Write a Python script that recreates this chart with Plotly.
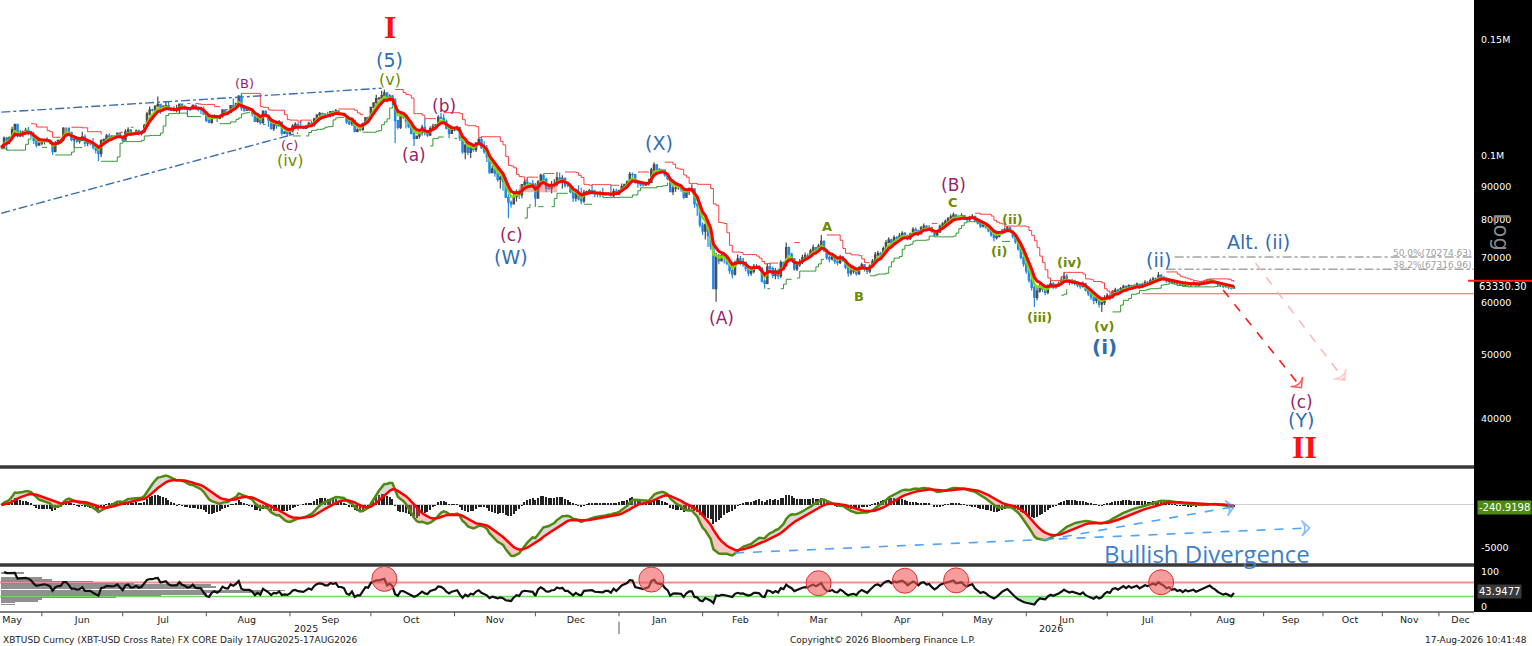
###########
# IMPORTS #
###########
import numpy as np
import pandas as pd
import plotly.graph_objects as go
from plotly.subplots import make_subplots

########
# DATA #
########
# XBT-USD daily bars (thousands of USD), 17 May 2025 -> 17 Aug 2026
first_day = '2025-05-17'

closes = [
    # May 2025 (from 17th)
    103.1, 106.5, 105.6, 106.8, 109.7, 111.7, 107.3, 107.8, 109.0, 109.4,
    108.9, 107.8, 105.6, 103.9, 104.6,
    # Jun 2025
    105.6, 105.8, 105.4, 104.7, 101.6, 104.4, 105.6, 105.8, 110.3, 110.3,
    108.7, 105.9, 106.1, 105.4, 105.6, 107.0, 104.6, 104.8, 104.6, 103.3,
    102.1, 100.9, 105.6, 106.0, 107.3, 107.0, 107.1, 107.3, 108.4, 107.1,
    # Jul 2025
    105.7, 108.8, 109.6, 108.0, 108.2, 109.2, 108.3, 108.9, 111.3, 115.9,
    117.5, 117.4, 119.1, 119.8, 117.7, 118.8, 119.3, 117.9, 117.3, 117.4,
    117.4, 119.9, 118.8, 118.4, 117.6, 117.9, 119.4, 118.0, 117.9, 117.8,
    115.8,
    # Aug 2025
    113.3, 112.5, 114.2, 115.0, 114.1, 115.0, 117.5, 116.7, 116.5, 119.3,
    118.7, 120.2, 123.3, 118.4, 117.4, 117.5, 117.4, 116.2, 112.9, 114.3,
    112.4, 116.9, 115.4, 113.5, 110.1, 111.8, 111.2, 112.6, 108.4, 108.8,
    108.2,
    # Sep 2025
    109.2, 111.2, 111.7, 110.7, 110.7, 110.2, 111.2, 112.1, 111.5, 113.9,
    115.5, 116.1, 115.9, 115.3, 115.3, 116.8, 116.5, 117.1, 115.7, 115.7,
    115.3, 112.7, 112.0, 113.3, 109.0, 109.7, 109.7, 112.1, 114.4, 114.1,
    # Oct 2025
    118.6, 120.5, 122.3, 122.4, 123.5, 124.8, 121.4, 123.3, 121.7, 113.2,
    110.6, 115.2, 115.3, 113.1, 110.8, 108.2, 106.4, 107.2, 108.7, 110.6,
    108.5, 107.6, 110.1, 111.0, 111.6, 114.5, 114.1, 112.9, 110.1, 108.3,
    109.6,
    # Nov 2025
    110.1, 110.6, 106.5, 101.5, 103.9, 101.3, 103.4, 102.3, 104.7, 105.9,
    103.0, 101.6, 99.7, 94.4, 95.6, 94.2, 92.2, 92.9, 91.5, 86.6,
    85.1, 84.6, 86.8, 88.3, 87.3, 90.5, 91.3, 90.9, 90.8, 90.4,
    # Dec 2025
    86.3, 91.3, 93.5, 92.1, 89.4, 89.3, 90.4, 90.6, 92.7, 92.0,
    92.5, 90.3, 90.3, 88.2, 86.4, 87.8, 86.1, 85.5, 88.1, 88.3,
    88.6, 88.5, 87.6, 87.6, 87.3, 87.3, 87.8, 87.8, 87.1, 88.4,
    87.5,
    # Jan 2026
    88.7, 89.9, 90.6, 91.4, 93.8, 93.7, 91.3, 90.9, 90.5, 90.4,
    90.8, 91.2, 95.3, 97.0, 95.5, 95.4, 95.1, 93.6, 92.5, 88.3,
    89.4, 89.5, 89.5, 89.2, 86.6, 88.3, 89.2, 89.2, 84.6, 84.1,
    78.6,
    # Feb 2026
    76.9, 78.7, 75.7, 73.0, 62.9, 70.5, 69.3, 70.6, 70.2, 68.8,
    67.0, 66.2, 68.9, 69.8, 68.8, 68.9, 67.5, 66.4, 66.9, 68.0,
    68.0, 67.6, 64.6, 64.1, 67.9, 67.5, 65.9, 67.0,
    # Mar 2026
    65.8, 68.9, 68.2, 72.6, 71.0, 69.9, 67.4, 68.4, 69.0, 70.1,
    70.6, 70.4, 71.8, 72.6, 71.9, 73.1, 74.2, 72.0, 70.1, 69.8,
    70.5, 69.2, 68.9, 70.3, 69.5, 67.8, 66.5, 66.9, 67.1, 66.3,
    67.6,
    # Apr 2026
    68.4, 67.5, 66.9, 68.1, 69.3, 70.8, 71.2, 70.6, 72.4, 73.9,
    74.6, 73.8, 75.2, 74.9, 75.7, 76.3, 75.8, 74.9, 76.1, 77.4,
    77.0, 76.2, 77.8, 78.3, 77.5, 77.9, 76.8, 75.9, 76.7, 78.2,
    # May 2026
    78.9, 79.6, 80.3, 80.9, 81.4, 80.6, 80.8, 81.2, 80.5, 80.1,
    80.7, 81.0, 79.9, 79.2, 78.3, 78.6, 78.1, 77.0, 75.9, 75.2,
    75.6, 76.3, 76.9, 77.4, 77.8, 76.9, 75.6, 74.1, 72.3, 70.2,
    68.6,
    # Jun 2026
    66.9, 64.8, 63.2, 61.0, 62.4, 63.5, 62.8, 62.1, 63.3, 64.0,
    63.2, 63.6, 64.1, 64.8, 65.7, 64.9, 64.3, 64.6, 64.1, 63.7,
    63.4, 63.9, 62.6, 61.8, 61.1, 60.4, 60.9, 59.6, 59.9, 60.8,
    # Jul 2026
    61.4, 61.0, 62.3, 62.6, 62.1, 62.9, 63.4, 62.8, 63.6, 63.1,
    63.5, 63.9, 63.2, 63.8, 64.3, 64.1, 64.7, 65.1, 64.8, 65.9,
    65.5, 65.2, 64.6, 64.9, 64.3, 64.5, 64.0, 64.2, 63.7, 64.1,
    63.8,
    # Aug 2026 (to 17th)
    63.9, 64.1, 63.7, 63.9, 64.2, 64.4, 64.6, 64.8, 64.5, 64.3,
    63.9, 63.7, 63.4, 63.5, 63.2, 63.0, 63.33,
]

highs = [
    103.7, 107.1, 107.0, 107.1, 110.8, 112.0, 111.9, 109.5, 109.3, 110.4,
    110.7, 109.3, 108.9, 106.3, 105.0,
    105.9, 105.9, 106.8, 105.9, 105.0, 105.4, 106.0, 106.0, 110.6, 110.4,
    110.4, 108.5, 106.2, 106.2, 106.1, 108.9, 107.8, 105.6, 105.1, 106.5,
    103.9, 103.0, 106.1, 106.3, 108.0, 108.3, 107.7, 107.6, 108.5, 108.7,
    107.5, 109.8, 110.6, 109.8, 108.6, 109.7, 109.7, 109.3, 111.9, 116.8,
    118.9, 118.0, 119.5, 123.2, 120.0, 119.6, 120.9, 120.8, 118.5, 118.9,
    119.7, 120.2, 120.0, 119.5, 118.4, 118.4, 119.8, 119.8, 118.8, 118.8,
    118.9,
    116.1, 114.0, 114.8, 115.7, 115.1, 115.6, 117.7, 117.7, 117.2, 119.3,
    122.3, 120.3, 123.7, 124.5, 118.9, 117.7, 118.6, 117.5, 116.8, 114.5,
    114.8, 117.4, 117.4, 115.6, 113.6, 112.4, 112.6, 113.4, 112.6, 109.0,
    109.4,
    109.9, 111.8, 112.6, 112.2, 113.4, 110.9, 111.4, 112.8, 113.2, 114.3,
    115.6, 116.7, 116.3, 116.1, 116.8, 117.0, 117.3, 117.9, 117.4, 116.3,
    115.6, 115.3, 113.3, 113.9, 113.4, 110.2, 110.0, 112.3, 114.5, 114.8,
    118.7, 120.7, 123.9, 122.9, 125.7, 126.2, 124.9, 124.1, 123.8, 122.5,
    113.5, 115.9, 116.0, 115.4, 113.6, 111.0, 109.1, 107.5, 109.4, 111.6,
    114.0, 109.3, 111.0, 112.0, 111.9, 115.4, 116.4, 116.0, 113.6, 111.5,
    111.2,
    110.7, 111.2, 110.8, 106.6, 104.5, 104.0, 104.1, 103.8, 105.0, 106.7,
    107.0, 105.3, 104.0, 99.9, 96.8, 96.6, 96.0, 93.8, 93.1, 93.0,
    87.4, 85.6, 88.1, 89.0, 89.0, 90.6, 91.9, 92.9, 91.2, 92.0,
    91.0, 92.0, 94.1, 94.0, 92.7, 90.0, 91.7, 92.2, 94.6, 94.4,
    93.5, 92.8, 90.6, 90.5, 90.0, 88.2, 90.3, 89.5, 88.9, 88.6,
    89.1, 90.5, 88.9, 87.9, 88.6, 89.5, 88.0, 88.1, 90.3, 89.3,
    89.2,
    88.8, 90.9, 90.8, 91.8, 94.6, 94.4, 93.6, 91.4, 91.5, 90.7,
    91.2, 92.4, 96.0, 97.9, 97.2, 95.9, 95.6, 95.5, 93.6, 92.9,
    90.3, 90.5, 90.9, 89.8, 89.4, 88.6, 89.6, 90.6, 89.3, 84.6,
    84.2,
    79.3, 79.2, 79.0, 76.5, 73.2, 71.3, 71.0, 71.5, 71.4, 70.5,
    69.3, 68.3, 69.4, 70.9, 70.5, 70.0, 69.2, 68.3, 67.9, 68.6,
    68.5, 68.3, 67.8, 65.0, 68.7, 68.8, 67.9, 67.6,
    67.5, 69.5, 69.2, 73.9, 72.9, 71.3, 69.9, 68.9, 69.8, 70.8,
    71.4, 71.2, 72.3, 73.4, 72.8, 73.6, 75.9, 74.5, 72.4, 70.6,
    71.2, 70.8, 69.6, 70.8, 70.6, 69.8, 67.9, 67.5, 67.7, 67.4,
    68.1,
    68.9, 68.6, 67.9, 68.5, 69.8, 71.5, 71.8, 71.5, 72.9, 74.6,
    75.3, 74.9, 75.8, 75.6, 76.4, 76.9, 76.7, 75.8, 76.5, 78.0,
    77.9, 77.3, 78.3, 79.0, 78.5, 78.5, 78.1, 77.0, 77.3, 78.7,
    79.4, 80.1, 80.8, 81.6, 82.1, 81.5, 81.3, 81.9, 81.3, 80.9,
    81.2, 81.6, 81.1, 79.8, 79.4, 79.1, 78.9, 78.2, 77.3, 76.0,
    76.2, 76.8, 77.5, 77.9, 78.3, 78.1, 77.1, 75.8, 74.4, 72.6,
    70.5,
    68.9, 67.2, 65.3, 63.9, 63.1, 64.0, 64.0, 63.4, 63.9, 64.7,
    64.4, 64.0, 64.5, 65.6, 66.6, 66.2, 65.1, 65.1, 64.9, 64.3,
    64.0, 64.5, 64.2, 62.9, 62.4, 61.6, 61.6, 61.2, 60.6, 61.5,
    61.9, 61.8, 62.6, 63.1, 62.9, 63.3, 63.8, 63.6, 63.9, 63.8,
    63.9, 64.3, 63.9, 64.2, 64.8, 64.6, 65.2, 65.6, 65.4, 66.7,
    66.2, 65.7, 65.5, 65.3, 65.1, 64.9, 64.7, 64.6, 64.4, 64.5,
    64.4,
    64.3, 64.5, 64.3, 64.3, 64.6, 64.8, 65.0, 65.1, 65.0, 64.7,
    64.4, 64.1, 63.9, 63.8, 63.7, 63.6, 63.6,
]

lows = [
    102.6, 102.9, 102.1, 104.2, 106.1, 108.7, 106.7, 106.9, 106.8, 108.6,
    107.6, 106.7, 104.3, 103.1, 103.7,
    103.9, 104.1, 104.9, 104.3, 100.4, 101.4, 104.3, 105.0, 105.3, 108.4,
    108.4, 105.3, 103.0, 104.8, 104.5, 105.4, 103.4, 103.5, 103.9, 102.3,
    100.9, 98.2, 99.7, 104.6, 105.9, 106.5, 106.4, 106.8, 107.3, 106.8,
    105.2, 105.8, 108.5, 107.3, 107.8, 107.8, 107.5, 107.5, 108.4, 111.1,
    115.2, 116.9, 117.3, 118.9, 116.0, 117.0, 117.8, 117.3, 117.3, 116.9,
    116.5, 116.2, 117.4, 117.5, 114.8, 117.2, 117.8, 117.6, 117.0, 115.9,
    115.5,
    112.7, 112.2, 112.0, 114.2, 112.7, 113.7, 114.3, 115.9, 116.2, 116.4,
    118.1, 118.2, 118.5, 117.2, 116.8, 117.1, 117.2, 114.8, 112.7, 112.4,
    111.7, 112.0, 114.5, 110.8, 109.7, 109.2, 110.0, 110.9, 107.5, 107.9,
    107.4,
    107.3, 108.6, 110.8, 109.4, 110.1, 109.8, 110.0, 110.6, 110.8, 110.9,
    113.5, 114.3, 115.3, 114.8, 114.5, 114.5, 114.7, 116.1, 115.4, 115.4,
    114.8, 111.9, 111.5, 111.1, 108.7, 108.7, 109.1, 109.3, 111.6, 112.7,
    113.9, 118.3, 119.3, 121.6, 122.1, 123.0, 120.7, 121.1, 119.5, 104.6,
    109.7, 109.9, 113.9, 110.1, 110.2, 107.9, 103.6, 106.4, 106.3, 107.5,
    107.5, 106.9, 107.5, 109.7, 110.7, 111.3, 113.6, 112.3, 109.8, 106.4,
    108.0,
    109.1, 109.2, 105.4, 100.8, 98.9, 100.4, 99.3, 101.5, 101.4, 104.3,
    102.5, 100.8, 98.0, 94.0, 94.5, 93.0, 91.4, 89.3, 88.6, 86.3,
    80.5, 83.5, 84.7, 85.3, 86.1, 86.3, 90.1, 90.2, 90.3, 90.2,
    83.8, 86.2, 91.0, 91.7, 88.1, 88.9, 87.8, 89.6, 89.9, 91.1,
    89.3, 89.6, 89.7, 87.8, 85.2, 85.3, 85.6, 84.5, 84.9, 87.7,
    87.6, 87.4, 86.7, 86.6, 86.5, 86.6, 87.3, 87.2, 86.8, 86.6,
    87.3,
    87.3, 88.6, 89.7, 90.2, 91.3, 92.6, 90.8, 89.5, 89.9, 89.9,
    90.1, 90.2, 91.1, 94.6, 94.9, 94.5, 94.7, 93.0, 91.9, 88.1,
    87.3, 88.3, 88.9, 88.3, 86.1, 86.4, 87.3, 88.1, 83.5, 81.2,
    77.9,
    75.9, 74.7, 72.8, 72.1, 62.8, 60.1, 68.5, 69.2, 68.7, 68.3,
    66.3, 65.2, 65.9, 68.7, 68.3, 68.0, 66.8, 65.7, 65.8, 66.4,
    67.5, 67.0, 64.3, 62.9, 63.9, 66.8, 65.3, 65.0,
    65.0, 65.3, 67.3, 67.9, 70.4, 69.3, 67.0, 66.9, 67.9, 68.6,
    69.9, 69.7, 70.2, 71.6, 71.4, 71.5, 72.8, 71.5, 69.6, 69.0,
    69.4, 68.6, 68.2, 68.6, 69.1, 67.3, 65.6, 65.9, 66.3, 65.8,
    66.0,
    67.2, 66.8, 66.2, 66.4, 67.9, 69.1, 70.4, 70.0, 70.4, 72.2,
    73.8, 73.2, 73.5, 74.3, 74.7, 75.5, 75.3, 74.5, 74.6, 75.9,
    76.6, 75.6, 76.0, 77.6, 77.1, 77.2, 76.5, 75.4, 75.6, 76.4,
    77.6, 78.4, 79.2, 79.7, 80.3, 80.0, 80.1, 80.4, 79.9, 79.5,
    79.6, 80.3, 79.5, 78.8, 77.8, 77.9, 77.6, 76.6, 75.4, 74.2,
    74.7, 75.2, 76.0, 76.5, 77.0, 76.5, 75.0, 73.6, 71.8, 69.7,
    67.9,
    66.3, 64.2, 62.5, 59.0, 60.4, 62.0, 62.2, 61.5, 61.7, 63.0,
    62.8, 62.9, 63.4, 63.8, 64.5, 64.5, 63.7, 63.9, 63.6, 63.2,
    62.9, 63.1, 62.3, 61.3, 60.5, 59.6, 59.8, 58.9, 58.0, 59.4,
    60.5, 60.4, 60.8, 62.0, 61.7, 61.9, 62.8, 62.5, 62.6, 62.8,
    63.0, 63.1, 62.9, 63.0, 63.7, 63.8, 63.9, 64.6, 64.5, 64.7,
    65.1, 64.7, 64.2, 64.2, 64.0, 63.9, 63.6, 63.7, 63.4, 63.5,
    63.3,
    63.3, 63.6, 63.3, 63.4, 63.8, 64.0, 64.2, 64.4, 64.1, 63.9,
    63.5, 63.3, 63.0, 63.1, 62.8, 62.7, 62.9,
]

# last values shown in the right-hand tags
last_price = 63330.30
macd_last = -240.9198
rsi_last = 43.9477

# price axis
price_ticks = [40000, 50000, 60000, 70000, 80000, 90000, 100000, 150000]
price_tick_text = ['40000', '50000', '60000', '70000', '80000', '90000', '0.1M', '0.15M']

# month axis
month_names = ['May', 'Jun', 'Jul', 'Aug', 'Sep', 'Oct', 'Nov', 'Dec', 'Jan', 'Feb',
               'Mar', 'Apr', 'May', 'Jun', 'Jul', 'Aug', 'Sep', 'Oct', 'Nov', 'Dec']
month_label_dates = ['2025-05-21', '2025-06-16', '2025-07-16', '2025-08-16', '2025-09-16',
                     '2025-10-16', '2025-11-16', '2025-12-16', '2026-01-16', '2026-02-15',
                     '2026-03-16', '2026-04-16', '2026-05-16', '2026-06-16', '2026-07-16',
                     '2026-08-14', '2026-09-15', '2026-10-15', '2026-11-16', '2026-12-11']
year_names = ['2025', '2026']
year_label_dates = ['2025-09-07', '2026-06-10']

# fibonacci retracement of wave (i)
fib_names = ['50.0%', '38.2%']
fib_levels = [70274.63, 67316.96]
fib_starts = ['2026-07-26', '2026-07-23']
support_level = 61800
support_start = '2026-07-14'

# Elliott wave count
wave_text = ['I', '(5)', '(v)', '(B)', '(c)', '(iv)', '(a)', '(b)', '(c)', '(W)',
             '(X)', '(A)', 'A', 'B', '(B)', 'C', '(ii)', '(i)', '(iv)', '(iii)',
             '(v)', '(i)', '(ii)', 'Alt. (ii)', '(c)', '(Y)', 'II']
wave_dates = ['2025-10-08', '2025-10-08', '2025-10-08', '2025-08-15', '2025-09-01',
              '2025-09-01', '2025-10-17', '2025-10-28', '2025-11-22', '2025-11-22',
              '2026-01-16', '2026-02-08', '2026-03-19', '2026-03-31', '2026-05-05',
              '2026-05-05', '2026-05-27', '2026-05-22', '2026-06-17', '2026-06-06',
              '2026-06-30', '2026-06-30', '2026-07-20', '2026-08-28', '2026-09-21',
              '2026-09-21', '2026-09-22']
wave_prices = [157000, 139800, 130900, 129100, 103600, 98600, 100300, 119100, 75800, 70300,
               104600, 56800, 78300, 61300, 90300, 85000, 80200, 71700, 69000, 56800,
               55100, 51300, 69500, 74100, 42400, 39800, 36200]
wave_degree = ['cycle', 'primary', 'minor', 'inter_s', 'inter_s', 'minor', 'inter', 'inter',
               'inter', 'primary', 'primary', 'inter', 'minute', 'minute', 'inter', 'minute',
               'minute', 'minute', 'minute', 'minute', 'minute', 'primary_b', 'primary',
               'primary', 'inter', 'primary', 'cycle']

# hand-drawn lines
wedge_upper_dates = ['2025-05-17', '2025-10-05']
wedge_upper_prices = [116600, 126800]
wedge_lower_dates = ['2025-05-17', '2025-09-04']
wedge_lower_prices = [81900, 108400]
path_main_dates = ['2026-08-13', '2026-09-21']
path_main_prices = [62600, 44500]
path_alt_dates = ['2026-08-27', '2026-10-13']
path_alt_prices = [68800, 45700]
box_dates = ['2025-11-25', '2025-12-09']
box_prices = [88100, 90300]
div_long_dates = ['2026-02-13', '2026-09-24']
div_long_values = [-5580, -2670]
div_short_dates = ['2026-06-08', '2026-08-17']
div_short_values = [-4070, -200]
ob_dates = ['2025-10-06', '2026-01-13', '2026-03-16', '2026-04-17', '2026-05-06', '2026-07-21']

#############
# FUNCTIONS #
#############
def paper_y(value, domain, yrange, log=False):
    v = np.log10(value) if log else value
    return domain[0] + (v - yrange[0]) / (yrange[1] - yrange[0]) * (domain[1] - domain[0])


def dashed_arrow(fig, xs, ys, color, row):
    fig.add_trace(go.Scatter(
        x=xs, y=ys, mode='lines+markers', hoverinfo='skip',
        line=dict(color=color, width=1.6, dash='dash'),
        marker=dict(symbol='arrow-wide-open', size=[0, 11], angleref='previous',
                    color=color, line=dict(color=color, width=1.6))
    ), row=row, col=1)


############
# BUILDING #
############
assert len(closes) == len(highs) == len(lows)
dates = pd.date_range(first_day, periods=len(closes), freq='D')
close = pd.Series(closes, index=dates) * 1000
high = pd.Series(highs, index=dates) * 1000
low = pd.Series(lows, index=dates) * 1000
open_ = close.shift(1).fillna(close.iloc[0])   # 24h market: open = prior close
high = np.maximum(high, np.maximum(open_, close))
low = np.minimum(low, np.minimum(open_, close))

# indicators
ma_fast = close.ewm(span=4, adjust=False).mean()
ma_main = close.ewm(span=6, adjust=False).mean()
trend = close.ewm(span=15, adjust=False).mean()
chan_hi = high.rolling(7, min_periods=1).max().where(close < trend * 1.01)
chan_lo = low.rolling(7, min_periods=1).min().where(close > trend * 0.99)

macd = close.ewm(span=12, adjust=False).mean() - close.ewm(span=26, adjust=False).mean()
signal = macd.ewm(span=9, adjust=False).mean()
hist = macd - signal

delta = close.diff()
gain = delta.clip(lower=0).ewm(alpha=1 / 9, adjust=False).mean()
loss = (-delta.clip(upper=0)).ewm(alpha=1 / 9, adjust=False).mean()
rsi = 100 - 100 / (1 + gain / loss)

# axes geometry (paper fractions)
main_dom, macd_dom, rsi_dom = [0.2402, 1.0], [0.0801, 0.2337], [0.0, 0.0735]
main_rng = [4.531, 5.237]
macd_rng = [-6744, 4186]
rsi_rng = [-14.3, 114.3]
x_rng = ['2025-05-16 12:00', '2026-12-18']

# future part of the axis runs on weekdays only
future_days = pd.date_range('2026-08-18', '2026-12-31')
weekend_breaks = [d.strftime('%Y-%m-%d') for d in future_days if d.weekday() >= 5]
month_starts = [d.strftime('%Y-%m-%d') for d in pd.date_range('2025-06-01', '2026-12-01', freq='MS')]

wave_styles = {
    'cycle': dict(color='#ff1010', size=32, family='Liberation Serif', bold=True),
    'primary': dict(color='#2f6db3', size=19, family='DejaVu Sans', bold=False),
    'primary_b': dict(color='#2f6db3', size=20, family='DejaVu Sans', bold=True),
    'inter': dict(color='#9b1f68', size=17, family='DejaVu Sans', bold=False),
    'inter_s': dict(color='#9b1f68', size=13, family='DejaVu Sans', bold=False),
    'minor': dict(color='#6f8c00', size=16, family='DejaVu Sans', bold=False),
    'minute': dict(color='#6f8c00', size=13, family='DejaVu Sans', bold=True),
}

fig = make_subplots(rows=3, cols=1, shared_xaxes=True, vertical_spacing=0.01)

# ---- price panel ----
fig.add_trace(go.Scatter(x=[box_dates[0], box_dates[1], box_dates[1], box_dates[0], box_dates[0]],
                         y=[box_prices[0], box_prices[0], box_prices[1], box_prices[1], box_prices[0]],
                         fill='toself', fillcolor='rgba(235,90,90,0.45)', mode='lines',
                         line=dict(width=0), hoverinfo='skip'), row=1, col=1)
fig.add_trace(go.Candlestick(
    x=dates, open=open_, high=high, low=low, close=close, whiskerwidth=0,
    increasing=dict(line=dict(color='#4a4a4a', width=1.2), fillcolor='#808080'),
    decreasing=dict(line=dict(color='#1f88e8', width=1.2), fillcolor='#1f88e8'),
), row=1, col=1)
fig.add_trace(go.Scatter(x=dates, y=chan_hi, mode='lines', line=dict(color='#ff3b3b', width=1, shape='hv'),
                         hoverinfo='skip'), row=1, col=1)
fig.add_trace(go.Scatter(x=dates, y=chan_lo, mode='lines', line=dict(color='#2e9a2e', width=1, shape='hv'),
                         hoverinfo='skip'), row=1, col=1)
fig.add_trace(go.Scatter(x=dates, y=ma_fast, mode='lines', line=dict(color='#7fdc00', width=2.5),
                         hoverinfo='skip'), row=1, col=1)
fig.add_trace(go.Scatter(x=dates, y=ma_main, mode='lines', line=dict(color='#ff0000', width=3)),
              row=1, col=1)

# wedge lines
for xs, ys in [(wedge_upper_dates, wedge_upper_prices), (wedge_lower_dates, wedge_lower_prices)]:
    fig.add_trace(go.Scatter(x=xs, y=ys, mode='lines', hoverinfo='skip',
                             line=dict(color='#3a6fb0', width=1.4, dash='dashdot')), row=1, col=1)

# fibonacci and support lines
for name, level, start in zip(fib_names, fib_levels, fib_starts):
    fig.add_trace(go.Scatter(x=[start, x_rng[1]], y=[level, level], mode='lines', hoverinfo='skip',
                             line=dict(color='#a5a5a5', width=1.4, dash='dashdot')), row=1, col=1)
    fig.add_annotation(x=1.0, xref='paper', y=np.log10(level), yref='y', xanchor='right',
                       yanchor='bottom', yshift=-3, showarrow=False,
                       text=f'{name}({level:.2f})', font=dict(size=9, color='#a0a0a0', family='DejaVu Sans'))
fig.add_trace(go.Scatter(x=[support_start, x_rng[1]], y=[support_level, support_level], mode='lines',
                         hoverinfo='skip', line=dict(color='#ff5a5a', width=1)), row=1, col=1)

# projected paths
dashed_arrow(fig, path_alt_dates, path_alt_prices, '#ffb8b8', 1)
dashed_arrow(fig, path_main_dates, path_main_prices, '#ff1a1a', 1)

# wave labels
for text, d, p, deg in zip(wave_text, wave_dates, wave_prices, wave_degree):
    st = wave_styles[deg]
    label = f'<b>{text}</b>' if st['bold'] else text
    fig.add_annotation(x=d, y=np.log10(p), xref='x', yref='y', showarrow=False, text=label,
                       font=dict(size=st['size'], color=st['color'], family=st['family']))

# ---- MACD panel ----
fig.add_trace(go.Scatter(x=dates, y=signal, mode='lines', line=dict(width=0), hoverinfo='skip'), row=2, col=1)
fig.add_trace(go.Scatter(x=dates, y=np.maximum(macd, signal), mode='lines', line=dict(width=0),
                         fill='tonexty', fillcolor='rgba(150,150,150,0.35)', hoverinfo='skip'), row=2, col=1)
fig.add_trace(go.Scatter(x=dates, y=signal, mode='lines', line=dict(width=0), hoverinfo='skip'), row=2, col=1)
fig.add_trace(go.Scatter(x=dates, y=np.minimum(macd, signal), mode='lines', line=dict(width=0),
                         fill='tonexty', fillcolor='rgba(240,110,110,0.4)', hoverinfo='skip'), row=2, col=1)
fig.add_trace(go.Bar(x=dates, y=hist, width=0.45 * 86400000, marker=dict(color='#222222', line=dict(width=0))),
              row=2, col=1)
fig.add_trace(go.Scatter(x=dates, y=macd, mode='lines', line=dict(color='#4f8a10', width=2.5)), row=2, col=1)
fig.add_trace(go.Scatter(x=dates, y=signal, mode='lines', line=dict(color='#ff0000', width=2.5)), row=2, col=1)

dashed_arrow(fig, div_long_dates, div_long_values, '#4da3ff', 2)
dashed_arrow(fig, div_short_dates, div_short_values, '#4da3ff', 2)
fig.add_annotation(x='2026-08-07', y=-5600, xref='x2', yref='y2', showarrow=False,
                   text='Bullish Divergence', font=dict(size=24, color='#3f7fcc', family='Open Sans'))

# ---- RSI panel ----
# time-at-level profile of the RSI, drawn from the left edge
bins = np.arange(0, 105, 5)
counts, edges = np.histogram(rsi.dropna(), bins=bins)
centers = (edges[:-1] + edges[1:]) / 2
fig.add_trace(go.Bar(y=centers, x=counts / counts.max() * 105 * 86400000, base=dates[0],
                     orientation='h', width=4.6, marker=dict(color='rgba(125,125,125,0.85)', line=dict(width=0))),
              row=3, col=1)
rsi_30 = pd.Series(30.0, index=dates)
fig.add_trace(go.Scatter(x=dates, y=rsi_30, mode='lines', line=dict(width=0), hoverinfo='skip'), row=3, col=1)
fig.add_trace(go.Scatter(x=dates, y=np.minimum(rsi, 30), mode='lines', line=dict(width=0),
                         fill='tonexty', fillcolor='rgba(110,220,110,0.5)', hoverinfo='skip'), row=3, col=1)
fig.add_trace(go.Scatter(x=dates, y=rsi, mode='lines', line=dict(color='#111111', width=2.2)), row=3, col=1)
ob_vals = [rsi[pd.Timestamp(d) - pd.Timedelta(days=2): pd.Timestamp(d) + pd.Timedelta(days=2)].max()
           for d in ob_dates]
fig.add_trace(go.Scatter(x=ob_dates, y=ob_vals, mode='markers', hoverinfo='skip',
                         marker=dict(size=25, color='rgba(240,90,90,0.6)', line=dict(color='#e03030', width=1))),
              row=3, col=1)

# ---- axes ----
fig.update_xaxes(type='date', range=x_rng, rangebreaks=[dict(values=weekend_breaks)],
                 rangeslider_visible=False, showgrid=False, zeroline=False, showline=False)
fig.update_xaxes(row=3, col=1, tickmode='array', tickvals=month_label_dates, ticktext=month_names,
                 ticks='', tickfont=dict(size=9.5, color='#222222', family='DejaVu Sans'))

tick_font = dict(size=9.5, color='white', family='DejaVu Sans')
fig.update_layout(
    yaxis=dict(domain=main_dom, type='log', range=main_rng, side='right', tickmode='array',
               tickvals=price_ticks, ticktext=price_tick_text, showgrid=False, zeroline=False,
               ticks='', tickfont=tick_font, ticklabelstandoff=6),
    yaxis2=dict(domain=macd_dom, range=macd_rng, side='right', tickmode='array', tickvals=[-5000],
                ticktext=['-5000'], showgrid=False, zeroline=True, zerolinecolor='#cfcfcf',
                zerolinewidth=1, ticks='', tickfont=tick_font, ticklabelstandoff=6),
    yaxis3=dict(domain=rsi_dom, range=rsi_rng, side='right', tickmode='array', tickvals=[0, 100],
                ticktext=['0', '100'], showgrid=False, zeroline=False, ticks='', tickfont=tick_font,
                ticklabelstandoff=6),
)

# ---- frame, tags and footer ----
shapes = [
    dict(type='rect', xref='paper', yref='paper', x0=1.0, x1=1.05, y0=0, y1=1,
         fillcolor='black', line=dict(width=0), layer='below'),
    dict(type='line', xref='paper', yref='y3', x0=0, x1=1, y0=70, y1=70,
         line=dict(color='#f29090', width=2), layer='below'),
    dict(type='line', xref='paper', yref='y3', x0=0, x1=1, y0=30, y1=30,
         line=dict(color='#70dc60', width=1.5), layer='below'),
    dict(type='line', xref='paper', yref='paper', x0=0, x1=1.0, y0=0.2369, y1=0.2369,
         line=dict(color='#3a3a3a', width=3.5)),
    dict(type='line', xref='paper', yref='paper', x0=0, x1=1.0, y0=0.0768, y1=0.0768,
         line=dict(color='#3a3a3a', width=3.5)),
    dict(type='line', xref='paper', yref='paper', x0=0, x1=1.0, y0=0, y1=0,
         line=dict(color='#555555', width=1.5)),
    dict(type='line', xref='x3', yref='paper', x0='2026-01-01', x1='2026-01-01', y0=-0.016, y1=-0.036,
         line=dict(color='#555555', width=1)),
    dict(type='line', xref='paper', yref='paper', x0=0.996, x1=1.04,
         y0=paper_y(last_price * 1.021, main_dom, main_rng, log=True),
         y1=paper_y(last_price * 1.021, main_dom, main_rng, log=True),
         line=dict(color='#ff1a1a', width=2)),
]
# month boundary tick marks under the RSI panel
shapes += [dict(type='line', xref='x3', yref='paper', x0=m, x1=m, y0=0, y1=-0.007,
                line=dict(color='#555555', width=1)) for m in month_starts]
fig.update_layout(shapes=shapes)

fig.add_annotation(x=1.0, xref='paper', y=np.log10(last_price), yref='y', xanchor='left', xshift=3,
                   showarrow=False, text=f'{last_price:.2f}', font=dict(size=10, color='white', family='DejaVu Sans'))
fig.add_annotation(x=1.0, xref='paper', y=macd_last, yref='y2', xanchor='left', xshift=3,
                   showarrow=False, text=f'{macd_last:.4f}', bgcolor='#4c8a14', borderpad=1,
                   font=dict(size=10, color='white', family='DejaVu Sans'))
fig.add_annotation(x=1.0, xref='paper', y=rsi_last, yref='y3', xanchor='left', xshift=3,
                   showarrow=False, text=f'{rsi_last:.4f}', bgcolor='#3a3a3a', borderpad=1,
                   font=dict(size=10, color='white', family='DejaVu Sans'))
fig.add_annotation(x=1.028, xref='paper', y=0.62, yref='paper', showarrow=False, textangle=90,
                   text='Log', font=dict(size=21, color='#8a8a8a', family='DejaVu Sans'))

for name, d in zip(year_names, year_label_dates):
    fig.add_annotation(x=d, xref='x3', y=-0.027, yref='paper', yanchor='middle', showarrow=False,
                       text=name, font=dict(size=9.5, color='#222222', family='DejaVu Sans'))

footer_font = dict(size=9, color='#222222', family='DejaVu Sans')
fig.add_annotation(x=0.001, xref='paper', y=-0.0465, yref='paper', xanchor='left', yanchor='middle',
                   showarrow=False, font=footer_font,
                   text='XBTUSD Curncy (XBT-USD Cross Rate) FX CORE Daily 17AUG2025-17AUG2026')
fig.add_annotation(x=0.599, xref='paper', y=-0.0465, yref='paper', yanchor='middle', showarrow=False,
                   text='Copyright\u00a9 2026 Bloomberg Finance L.P.', font=footer_font)
fig.add_annotation(x=1.037, xref='paper', y=-0.0465, yref='paper', xanchor='right', yanchor='middle',
                   showarrow=False, text='17-Aug-2026 10:41:48', font=footer_font)

fig.update_layout(
    width=1532, height=646, margin=dict(l=0, r=58, t=0, b=34),
    paper_bgcolor='white', plot_bgcolor='white', showlegend=False, bargap=0,
    hovermode=False,
)

# the page's default body margin would push the figure 8px right and down
fig.write_html("out.html", config={'displayModeBar': False},
               post_script="document.body.style.margin='0';")
